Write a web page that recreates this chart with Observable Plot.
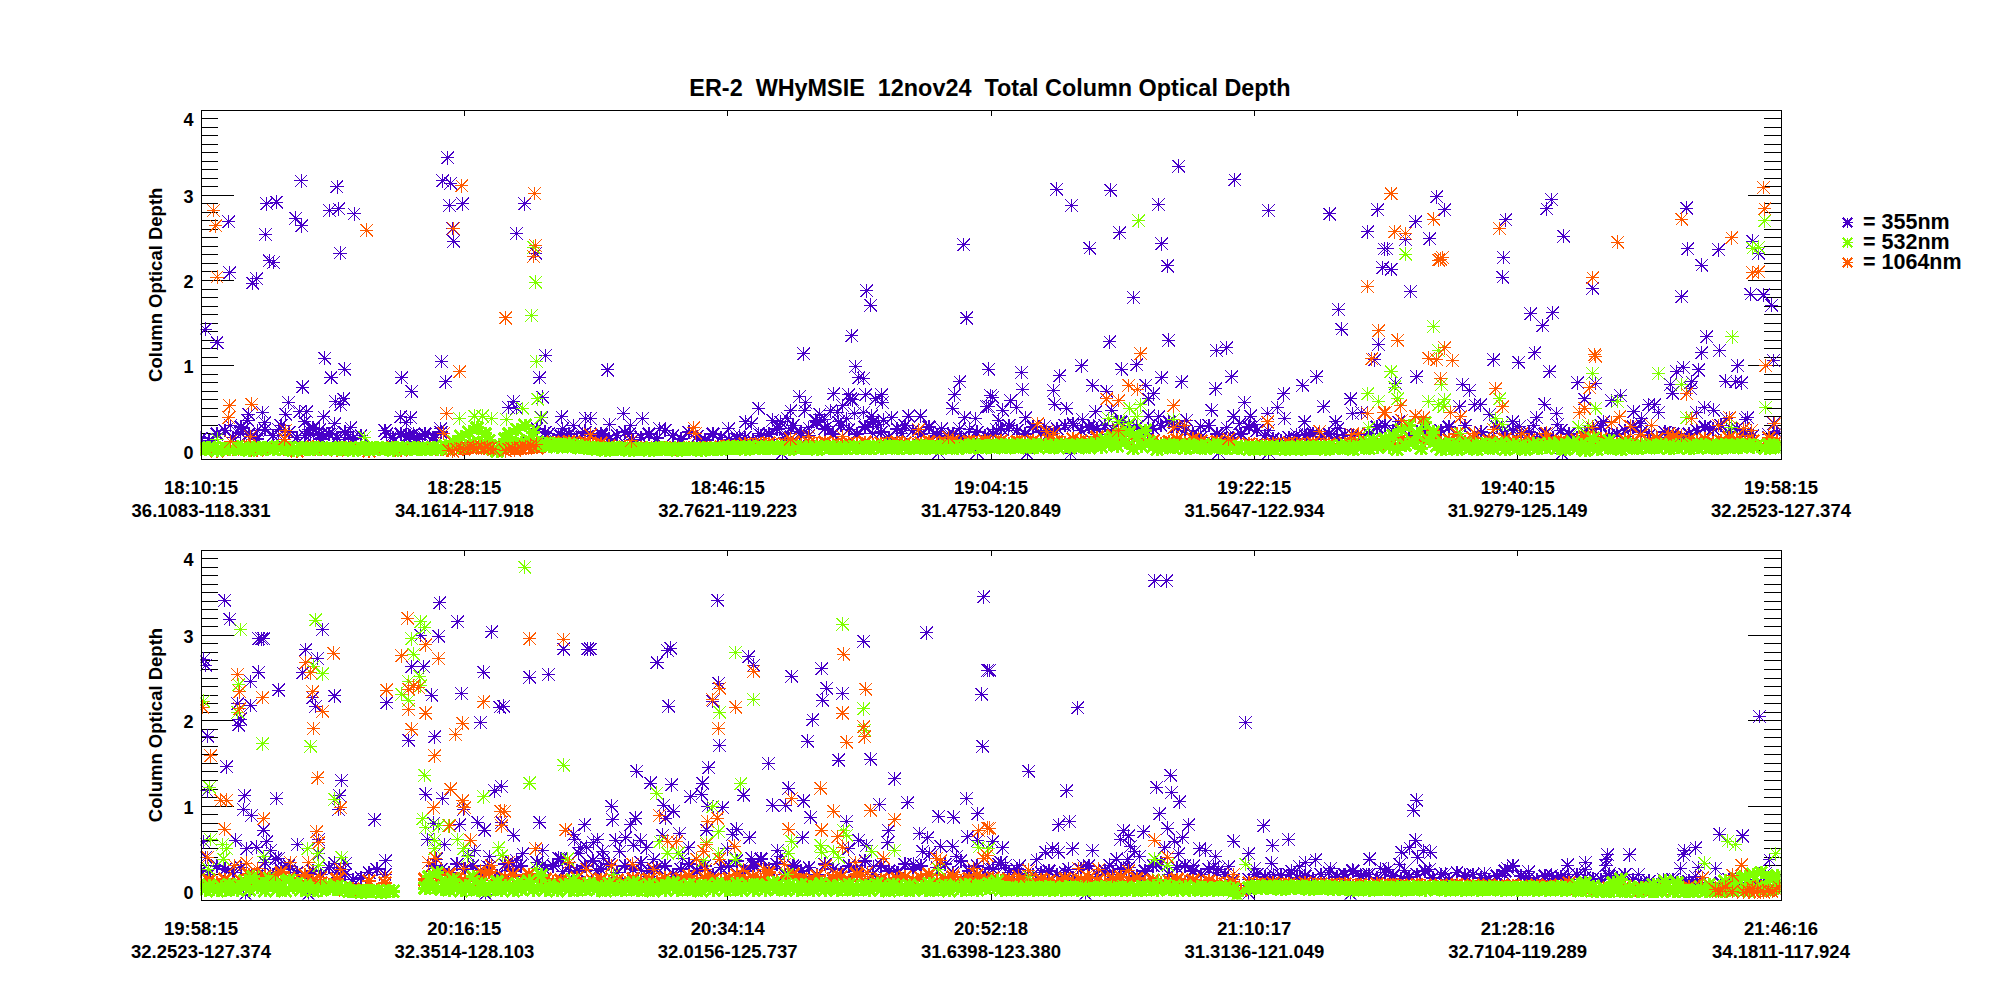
<!DOCTYPE html>
<html>
<head>
<meta charset="utf-8">
<script src="https://cdn.jsdelivr.net/npm/d3@7"></script>
<script src="https://cdn.jsdelivr.net/npm/@observablehq/plot@0.6"></script>
<style>
html,body{margin:0;padding:0;background:#fff;width:2000px;height:1000px;overflow:hidden;font-family:"Liberation Sans",Arial,sans-serif}
#page{position:relative;width:2000px;height:1000px}
#page>div{position:absolute}
#title{left:0;width:1980px;top:75px;text-align:center;font-weight:bold;font-size:23.4px;line-height:26px;white-space:pre;color:#000}
svg{display:block}
</style>
</head>
<body>
<div id="page">
  <div id="p1" style="left:0;top:0"></div>
  <div id="p2" style="left:0;top:540px"></div>
  <div id="title">ER-2  WHyMSIE  12nov24  Total Column Optical Depth</div>
  <div id="legend" style="left:1835px;top:205px"></div>
</div>
<script>
// ---- labels and colours ----
const chartTitle = "ER-2  WHyMSIE  12nov24  Total Column Optical Depth";
const yTitle = "Column Optical Depth";
const wavelengths = ["= 355nm", "= 532nm", "= 1064nm"];
const colors = ["#4800c8", "#7fff00", "#ff5a00"];
const topTimes = ["18:10:15","18:28:15","18:46:15","19:04:15","19:22:15","19:40:15","19:58:15"];
const topPlaces = ["36.1083-118.331","34.1614-117.918","32.7621-119.223","31.4753-120.849","31.5647-122.934","31.9279-125.149","32.2523-127.374"];
const botTimes = ["19:58:15","20:16:15","20:34:14","20:52:18","21:10:17","21:28:16","21:46:16"];
const botPlaces = ["32.2523-127.374","32.3514-128.103","32.0156-125.737","31.6398-123.380","31.3136-121.049","32.7104-119.289","34.1811-117.924"];
// x is a sample number along the flight leg
const sampleMax = 4740;
const xTicks = [0, 790, 1580, 2370, 3160, 3950, 4740];
const majorY = [0, 1, 2, 3];
const minorY = [0.1,0.2,0.3,0.4,0.5,0.6,0.7,0.8,0.9,1.1,1.2,1.3,1.4,1.5,1.6,1.7,1.8,1.9,2.1,2.2,2.3,2.4,2.5,2.6,2.7,2.8,2.9,3.1,3.2,3.3,3.4,3.5,3.6,3.7,3.8,3.9];
const yLabelAt = [0, 1, 2, 3, 3.9];
const yLabels = ["0", "1", "2", "3", "4"];
const segStart = [-17, 1168, 2353, 3553];

// ---- continuous band near zero: one value per sample step ----
const bandStepFine = 12, bandStepCoarse = 24;
const top532Band = [
.03,.02,.04,.03,.01,.03,.04,.02,.03,.05,.02,.03,.01,.04,.03,.02,.04,.03,.02,.05,.03,.02,.04,.01,.03,.04,.02,.03,.02,.04,.03,.02,.03,
.03,.02,.04,.02,.03,.01,.03,.04,.02,.03,.02,.04,.03,.02,.03,.01,.04,.03,.02,.03,.04,.02,.03,.02,.03,.04,.02,.03,.06,.03,.11,.04,.17,
.06,.22,.1,.27,.05,.2,.12,.02,.0,.05,.14,.2,.08,.25,.1,.3,.12,.22,.1,.07,.09,.06,.08,.05,.07,.06,.08,.05,.06,.04,.05,.03,.04,
.02,.03,.01,.03,.02,.04,.02,.03,.01,.03,.02,.03,.02,.01,.03,.02,.04,.02,.03,.02,.01,.03,.02,.03,.02,.03,.01,.02,.03,.02,.03,.02,.04,
.03,.05,.03,.04,.02,.05,.03,.04,.05,.03,.04,.03,.05,.03,.04,.02,.05,.04,.03,.05,.03,.04,.02,.05,.04,.03,.05,.03,.04,.03,.05,.04,.03,
.04,.05,.03,.05,.04,.03,.06,.04,.05,.03,.05,.04,.03,.05,.04,.06,.03,.05,.04,.05,.03,.06,.04,.05,.03,.05,.06,.04,.07,.05,.04,.06,.05,
.06,.05,.07,.04,.06,.05,.07,.05,.06,.04,.07,.05,.06,.07,.04,.06,.05,.07,.06,.04,.06,.07,.05,.06,.04,.07,.09,.05,.13,.08,.16,.06,.2,
.1,.22,.03,.17,.06,.24,.1,.05,.02,.06,.05,.07,.04,.06,.05,.03,.07,.05,.04,.06,.03,.05,.07,.04,.06,.03,.05,.04,.03,.05,.04,.02,.04,
.03,.05,.02,.04,.03,.05,.03,.02,.04,.03,.05,.02,.04,.03,.05,.03,.04,.02,.05,.03,.04,.06,.03,.05,.02,.07,.04,.1,.03,.12,.05,.08,.14,
.05,.18,.02,.25,.07,.3,.1,.2,.03,.33,.12,.22,.06,.02,.08,.03,.07,.02,.05,.09,.03,.06,.02,.08,.04,.07,.03,.06,.09,.02,.05,.07,.03,
.06,.02,.05,.08,.03,.06,.04,.09,.05,.03,.07,.02,.06,.1,.03,.07,.01,.05,.15,.02,.07,.04,.12,.03,.06,.02,.08,.04,.06,.03,.07,.05,.04,
.06,.04,.07,.05,.03,.06,.04,.07,.05,.03,.06,.04,.07,.05,.04,.06,.03,.07,.05,.06,.04,.07,.05,.06,.07,.05,.06,null,.03,.07,.05,.06,.04];
const bot532Band = [
.04,.02,.07,.03,.01,.06,.02,.08,.03,.02,.07,.12,.02,.17,.05,.09,.01,.15,.07,.02,.11,.01,.13,.05,.09,.02,.07,.03,.01,.05,.02,.07,.04,
.03,.06,.03,.04,.0,.01,.0,-.01,.01,.0,.01,.0,-.01,.0,.01,.0,null,null,null,null,null,null,null,.04,.17,.05,.22,.03,.1,.02,.14,.04,.01,
.07,.03,.17,.02,.09,.01,.06,.03,.11,.02,.07,.04,.01,.09,.03,.06,.12,.02,.05,.19,.02,.07,.03,.01,.05,.08,.02,.13,.02,.06,.03,.09,.04,
.02,.06,.01,.09,.03,.05,.02,.07,.03,.1,.02,.05,.02,.08,.01,.04,.07,.02,.06,.1,.02,.05,.03,.08,.02,.06,.01,.07,.04,.02,.09,.05,.02,
.06,.03,.09,.02,.05,.07,.02,.08,.04,.02,.06,.1,.03,.05,.02,.07,.04,.02,.08,.03,.06,.02,.05,.09,.02,.04,.07,.02,.06,.03,.08,.02,.05,
.03,.07,.02,.05,.09,.02,.06,.01,.08,.03,.05,.02,.07,.02,.04,.06,.02,.09,.02,.05,.03,.07,.01,.06,.04,.02,.08,.03,.06,.02,.07,.04,.09,
.05,.12,.02,.04,.03,.04,.02,.05,.03,.04,.02,.04,.03,.05,.02,.04,.03,.02,.05,.03,.04,.02,.05,.03,.02,.04,.03,.05,.02,.04,.03,.05,.02,
.04,.03,.02,.05,.02,.04,.03,.06,.02,.04,.07,.03,.05,.02,.04,.06,.02,.03,.05,.02,.04,.03,.02,.04,.03,.05,.02,.03,-.05,null,null,.04,.05,
.06,.04,.05,.06,.04,.05,.03,.06,.04,.05,.06,.04,.05,.03,.05,.04,.06,.04,.05,.03,.04,.05,.03,.04,.02,.04,.03,.05,.02,.04,.03,.05,.03,
.04,.03,.05,.02,.04,.03,.05,.03,.04,.02,.04,.05,.03,.04,.02,.05,.03,.04,.02,.04,.03,.05,.02,.04,.03,.05,.03,.04,.02,.04,.03,.04,.02,
.04,.03,.05,.02,.04,.03,.02,.04,.03,.05,.02,.04,.03,.02,.08,.01,.1,.02,.06,.0,.01,.03,.0,.1,.01,.14,.0,.05,.01,.0,.04,.01,.0,
.08,.0,.01,.12,.02,.0,.1,.01,.0,.01,.0,.02,.05,.0,.08,.01,.03,.0,.12,.02,.01,.15,.03,.17,.0,.2,.05,.22,.02,.16,.04,.18,.05];
const top1064Band = [
.02,.03,.0,.04,.02,.03,.06,.01,.03,.02,.04,.02,.0,.03,.05,.02,.03,.01,.04,.02,.03,.0,.03,.02,.04,.01,.03,.02,.03,.04,.02,.03,.04,
.03,.04,.05,.04,.03,.05,.04,.03,.05,.04,.06,.1,.09,.11,.08,.1,.07,.09,.06,.03,.05,.03,.04,.02,.03,.04,.03,.02,.04,.03,.04,.03,.05,
.06,.05,.08,.07,.08,.09,.07,.08,.1,.07,.09,.08,.1,.08,.07,.09,.08,.1,.07,.09,.08,.1,.09,.07,.09,.11,.08,.1,.12,.09,.11,.1,.12,
.1,.12,.09,.11,.1,.12,.09,.13,.11,.1,.14,.12,.1,.16,.12,.18,.13,.2,.14,.1,.12,.09,.11,.13,.1,.14,.12,.09,.11,.07,.09,.06,.08,
.07,.06,.08,.07,.09,.08,.07,.09,.07,.08,.06,.09,.08,.07,.1,.08,.12,.09,.14,.1,.16,.12,.18,.1,.13,.2,.11,.15,.09,.12,.1,.14,.11,
.1,.13,.08,.14,.1,.12,.09,.13,.16,.1,.14,.12,.09,.13,.11,.08,.12,.14,.1,.16,.09,.13,.11,.14,.1,.12,.15,.13,.11,.12,null,.15,.12];
const bot1064Band = [
.11,.13,.1,.14,.09,.12,.2,.15,.18,.14,.22,.16,.12,.19,.13,.1,.08,.14,.02,.03,.01,.12,.02,.1,null,null,null,null,.14,.18,.12,.2,.15,
.12,.17,.14,.22,.13,.16,.19,.12,.2,.15,.14,.11,.13,.12,.16,.1,.12,.14,.11,.13,.1,.15,.12,.14,.11,.16,.12,.15,.18,.12,.16,.14,.12,
.15,.19,.13,.17,.14,.22,.12,.16,.2,.14,.13,.18,.12,.15,.17,.13,.2,.12,.11,.14,.12,.15,.17,.13,.16,.2,.12,.14,.17,.13,.15,.19,.14,
.16,.12,.14,.11,.13,.1,.14,.12,.1,.15,.11,.13,.16,.12,.1,.14,.17,.12,.15,.11,.13,.1,.12,.14,.11,.13,.1,.12,.1,.09,.11,.02,.1,
.09,.08,.1,.08,.09,.07,.1,.08,.09,.07,.08,.09,.07,.08,.06,.09,.07,.08,.07,.06,.08,.07,.05,.07,.06,.08,.06,.07,.05,.07,.06,.05,.07,
.06,.05,.07,.06,.05,.07,.1,.04,.03,.05,.02,.04,.02,.06,.03,.02,.04,.02,.03,.01,.03,.05,.03,.06,.02,.04,.05,.03,.05,.04,.06,.03,.05];
const top355Band = [
.15,.12,.2,.24,.16,.28,.2,.14,.25,.18,.3,.22,.16,.18,.27,.14,.2,.16,.22,.15,.18,null,null,.24,.16,.2,.18,.14,.2,.16,.22,null,null,
null,null,null,null,null,null,null,null,.1,.26,.22,.12,.18,.2,.15,.22,.17,.2,.14,.18,.22,.13,.16,.2,.15,.24,.18,.14,.22,.17,.13,.2,.16,
.13,.14,.16,.12,.18,.2,.26,.15,.3,.22,.18,.34,.26,.2,.3,.25,.2,.28,.34,.22,.16,.26,.3,.24,.2,.28,.18,.14,.2,.16,.14,.22,.18,
.2,.26,.3,.24,.2,.28,.22,.2,.26,.3,.32,.24,.28,.26,.3,.25,.34,.3,.28,.2,.26,.3,.34,.28,.24,.2,.16,.3,.2,.14,.16,.2,.28,
.24,.18,.14,.12,.16,.14,.18,.2,.17,.2,.15,.19,.18,.14,.2,.28,.3,.24,.26,.18,.22,.26,.2,.24,.28,.2,.3,.16,.22,.14,.28,.2,.24,
.18,.22,.14,.2,.16,.24,.2,.15,.22,.26,.3,.18,.2,.24,.28,.22,.18,.16,.22,.2,.15,.2,.24,.28,.26,.3,.22,.26,.2,.18,null,.16,.22];
const bot355Band = [
.24,.2,.3,.26,.22,.28,.2,.18,.34,.2,.26,.3,.22,.18,.24,.2,.28,.22,.2,.14,.16,.22,.26,.2,null,null,null,null,null,.3,.26,.22,.32,
.26,.3,.2,.28,.18,.32,.24,.3,.2,.34,.26,.3,.38,.28,.24,.3,.36,.26,.32,.22,.3,.26,.34,.24,.28,.3,.2,.26,.32,.24,.3,.2,.28,
.3,.36,.24,.3,.38,.26,.32,.2,.3,.24,.28,.2,.32,.26,.22,.3,.24,.36,.2,.3,.24,.22,.32,.26,.3,.2,.28,.32,.22,.36,.24,.3,.2,
.26,.34,.22,.26,.18,.2,.22,.24,.2,.22,.16,.26,.3,.2,.24,.22,.26,.28,.18,.24,.3,.34,.2,.28,.3,.24,.2,.26,.22,.2,.14,null,.14,
.2,.17,.15,.19,.2,.16,.18,.15,.2,.22,.17,.2,.24,.18,.2,.16,.22,.18,.15,.17,.2,.24,.16,.2,.14,.22,.18,.2,.16,.14,.18,.24,.3,
.18,.16,.14,.18,.15,.17,.14,.2,.16,.15,.14,.18,.16,.2,.14,.1,.12,.08,.1,.14,.1,.12,.1,.08,.04,.1,.14,.1,.05,.12,.1,.16,.14];

// ---- scattered readings: sample offset in a stretch, optical depth ----
const top355A = [[30,1.43],[65,1.27],[100,2.69],[103,2.09],[172,1.97],[184,2.02],[214,2.9],[244,2.92],[211,2.54],[222,2.23],[235,2.21],[301,2.73],[319,2.64],[317,3.17],[425,3.1],[403,2.82],[430,2.84],[476,2.78],[434,2.32],[757,3.44],[742,3.17],[766,3.14],[763,2.88],[802,2.9],[772,2.61],[775,2.46],[988,2.9],[964,2.55],[1021,2.32],[388,1.09],[448,.96],[407,.86],[322,.75],[280,.57],[313,.46],[334,.46],[271,.43],[328,.34],[385,.4],[418,.32],[421,.58],[445,.61],[436,.54],[202,.45],[160,.43],[157,.36],[208,.33],[106,.3],[145,.26],[187,.24],[136,.2],[65,.2],[250,.25],[250,.18],[340,.25],[346,.19],[373,.25],[379,.2],[370,.18],[355,.18],[412,.21],[466,.27],[304,.16],[448,.13],[460,.16],[472,.14],[619,.86],[649,.7],[739,1.05],[751,.81],[616,.4],[646,.39],[632,.33],[574,.2],[586,.16],[634,.17],[646,.18],[655,.2],[682,.18],[718,.16],[736,.26],[1051,1.12],[1033,.86],[1042,.63],[955,.58],[940,.51],[964,.5],[1039,.39],[1099,.4],[1171,.38],[1135,.3],[1102,.26],[1060,.2],[1090,.19],[1126,.17],[1160,.2]];
const top355B = [[52,.95],[100,.44],[157,.38],[58,.31],[121,.3],[208,.26],[0,.38],[35,.18],[118,.2],[505,.5],[415,.26],[466,.34],[484,.32],[448,.18],[505,.2],[640,1.14],[628,.64],[646,.57],[601,.47],[643,.47],[547,.36],[571,.34],[592,.38],[568,.26],[601,.26],[595,.2],[628,.2],[829,1.88],[841,1.71],[784,1.35],[796,.99],[805,.86],[820,.85],[730,.67],[775,.66],[781,.61],[787,.6],[826,.66],[856,.61],[874,.66],[877,.57],[757,.53],[721,.47],[688,.43],[742,.45],[793,.44],[820,.45],[844,.41],[769,.38],[676,.36],[703,.37],[745,.34],[880,.36],[904,.39],[712,.29],[655,.27],[865,.31],[847,.21],[934,.2],[955,.41],[991,.41],[937,.26],[1120,2.42],[1129,1.56],[1195,.96],[1108,.81],[1093,.66],[1087,.5],[1189,.52],[1123,.39],[1156,.38],[1108,.26],[1138,.25],[1054,.26],[1030,.2],[1075,.2],[1200,.65],[575,-.03],[1045,-.02],[1160,-.02]];
const top355C = [[214,3.07],[259,2.88],[376,3.06],[520,2.89],[580,3.34],[748,3.18],[403,2.56],[529,2.43],[313,2.38],[547,2.17],[445,1.8],[850,2.82],[1033,2.78],[1177,2.83],[1147,2.57],[1196,2.37],[1192,2.15],[1060,1.66],[1069,1.43],[1180,1.25],[1168,1.07],[373,1.28],[550,1.3],[694,1.18],[724,1.21],[289,1],[409,.96],[454,1.01],[109,.92],[223,.88],[10,.96],[739,.87],[529,.86],[589,.81],[994,.87],[322,.77],[112,.72],[205,.71],[481,.77],[691,.73],[952,.77],[505,.67],[22,.63],[76,.59],[364,.7],[895,.67],[778,.57],[208,.55],[52,.48],[94,.51],[10,.52],[244,.5],[379,.48],[490,.61],[1015,.52],[1096,.61],[877,.51],[679,.48],[1102,.44],[1129,.45],[331,.46],[745,.41],[121,.39],[40,.36],[292,.37],[490,.41],[520,.4],[898,.38],[958,.34],[1051,.34],[796,.41],[763,.32],[646,.29],[724,.27],[34,.25],[70,.26],[178,.29],[265,.3],[325,.29],[604,.36],[808,.31],[847,.44],[1057,.26],[640,.19],[850,.24],[934,.19],[964,.19],[125,-.03],[255,-.03],[700,-.02],[850,-.02]];
const top355D = [[154,2.98],[178,2.83],[91,2.69],[133,2.49],[61,2.48],[5,2.37],[17,2.13],[76,1.87],[361,2.71],[355,2.27],[352,2.04],[499,2.95],[484,2.84],[535,2.52],[622,1.91],[436,1.61],[502,1.62],[472,1.47],[448,1.15],[325,1.07],[400,1.04],[493,.93],[94,.87],[31,.79],[232,.78],[253,.71],[577,.8],[631,.79],[706,.65],[598,.61],[679,.59],[130,.58],[478,.55],[268,.54],[286,.54],[223,.52],[514,.44],[454,.39],[313,.43],[445,.3],[517,.31],[382,.34],[403,.29],[904,2.85],[907,2.37],[1000,2.36],[949,2.18],[1102,2.46],[1120,2.32],[889,1.81],[1096,1.84],[1135,1.83],[1159,1.71],[964,1.34],[949,1.15],[1003,1.18],[1165,1.06],[1057,1],[874,.93],[895,.98],[940,.95],[856,.78],[862,.68],[919,.81],[1021,.82],[1051,.81],[1069,.8],[916,.73],[745,.46],[790,.54],[808,.54],[820,.45],[769,.38],[934,.45],[958,.51],[985,.48],[1087,.39],[1024,.38],[1081,.37],[766,.32],[853,.21],[1150,.19],[1165,.32],[40,.34],[190,.28],[655,.34],[530,-.03]];
const top532A = [[1015,2.39],[1021,1.98],[1009,1.59],[1024,1.05],[1027,.61],[982,.5],[1036,.39],[793,.38],[838,.41],[862,.41],[889,.38],[934,.37],[508,.16],[65,.14]];
const top532C = [[460,2.7],[1147,.67],[1180,.58],[466,.54],[433,.5],[565,.37],[1150,.27],[370,.38],[400,.34],[430,.32],[455,.4],[415,.26],[445,.18]];
const top532D = [[145,1.46],[160,1.18],[61,2.31],[17,.93],[28,.75],[622,.91],[820,.91],[1040,1.34],[1138,2.7],[1102,2.38],[1120,2.39],[1141,.51],[889,.78],[37,.61],[130,.58],[178,.6],[169,.78],[343,.61],[631,.5],[697,.58],[610,.3],[904,.39],[331,.38],[352,.31],[160,.54],[175,.52],[580,.28],[225,.2],[1037,.28]];
const top1064A = [[55,2.82],[61,2.64],[65,2.04],[103,.53],[100,.39],[169,.55],[799,3.11],[775,2.61],[514,2.59],[1018,3.02],[1021,2.41],[1015,2.28],[931,1.56],[793,.93],[754,.44],[745,.21],[271,.24],[268,.14],[166,.17],[106,.11],[1186,.19],[760,.01],[772,0],[784,.02],[796,.03],[805,.02],[815,.04],[825,.03],[833,.05],[842,.03],[850,.04],[858,.05],[866,.03],[875,.04],[884,.03],[895,.02],[930,0],[940,.02],[950,.03],[958,.01],[966,.03],[974,.04],[982,.03],[990,.05],[998,.04],[1006,.06],[1014,.05],[1022,.08]];
const top1064B = [[310,.27],[316,.21],[757,.17],[655,.17],[985,.25],[0,.19],[122,.12],[600,.14],[1075,.16]];
const top1064C = [[466,1.14],[430,.77],[457,.72],[364,.61],[400,.59],[565,.53],[1147,1.93],[1180,1.41],[1159,1.08],[847,.34],[1147,.44],[157,.32],[184,.23],[205,.2],[1003,.23],[1099,.19],[598,.3],[565,.27],[730,.14],[400,.24],[1196,.45],[1120,.2]];
const top1064D = [[17,3.02],[145,2.72],[28,2.57],[61,2.55],[166,2.25],[160,2.24],[172,2.27],[343,2.61],[697,2.45],[622,2.03],[889,2.72],[1039,2.5],[1135,3.09],[1138,2.84],[1102,2.09],[1120,2.1],[37,1.3],[178,1.21],[130,1.09],[154,1.07],[202,1.06],[628,1.13],[631,1.11],[1141,1],[166,.85],[331,.73],[613,.74],[904,.67],[46,.53],[0,.45],[91,.41],[115,.39],[226,.4],[196,.45],[352,.52],[583,.45],[598,.5],[703,.4],[679,.33],[919,.38],[1033,.39],[49,.36],[268,.21],[325,.25],[484,.21],[736,.29],[799,.3],[766,.19],[850,.2],[889,.18],[1000,.3],[1099,.24],[409,.2],[1168,.32],[1075,.26],[620,.28]];

const bot355A = [[88,3.41],[103,3.19],[199,2.96],[205,2.96],[190,2.96],[382,3.07],[331,2.83],[367,2.73],[25,2.72],[31,2.65],[190,2.57],[166,2.46],[322,2.56],[250,2.36],[127,2.2],[166,2.18],[130,1.95],[136,2.02],[352,2.27],[361,2.17],[418,2.29],[37,1.82],[94,1.46],[35,1.18],[148,1.12],[244,1.09],[145,.96],[169,.89],[439,1.3],[433,1.12],[430,.96],[205,.72],[538,.84],[214,.58],[121,.6],[370,.61],[307,.55],[184,.52],[154,.5],[226,.48],[25,.58],[250,.39],[241,.38],[31,.4],[418,.33],[451,.33],[571,.36],[370,.44],[100,.24],[286,.27],[445,.26],[574,2.21],[733,3.38],[787,3.16],[889,3.04],[1105,2.84],[1177,2.84],[1003,2.51],[1060,2.54],[865,2.57],[676,3],[730,2.99],[649,2.63],[685,2.63],[709,2.3],[799,2.32],[913,2.16],[925,2.17],[856,1.98],[718,1.81],[640,1.77],[691,1.14],[898,1.18],[919,1.23],[742,1.09],[805,.96],[715,.8],[793,.78],[847,.81],[868,.72],[1033,.81],[919,.81],[1168,.78],[955,.66],[1135,.67],[1138,.61],[697,.61],[748,.55],[1042,.48],[1156,.51],[1174,.52],[1150,.45],[838,.48],[982,.44],[883,.41],[1090,.39],[964,.36],[724,.38],[1042,.32],[1102,.23],[820,.42],[875,.3],[950,.34],[1195,.57],[150,-.03],[340,-.03],[870,-.03]];
const bot355B = [[382,3.41],[1180,3.45],[1009,3.03],[820,2.93],[241,2.85],[232,2.82],[200,2.68],[0,2.84],[475,2.75],[490,2.65],[694,2.61],[604,2.52],[1192,2.59],[385,2.44],[709,2.38],[757,2.32],[1174,2.31],[697,2.24],[367,2.23],[436,2.16],[235,2.17],[667,2.01],[652,1.76],[388,1.71],[1177,1.7],[535,1.5],[745,1.54],[841,1.55],[355,1.45],[139,1.41],[913,1.32],[181,1.27],[244,1.25],[337,1.27],[595,1.21],[334,1.14],[460,1.13],[301,1.11],[64,1],[220,1.01],[352,1],[250,.94],[397,.98],[547,1.01],[586,1.01],[640,1.06],[868,1.02],[952,1.04],[1129,1.09],[67,.84],[136,.86],[226,.86],[661,.87],[1162,.91],[1045,.88],[1090,.87],[121,.78],[769,.82],[349,.72],[439,.73],[427,.67],[268,.68],[22,.61],[76,.6],[106,.63],[151,.6],[217,.66],[478,.63],[637,.63],[895,.71],[988,.68],[1012,.63],[1132,.64],[1162,.6],[805,.6],[892,.57],[130,.54],[169,.51],[295,.51],[562,.48],[1051,.53],[1087,.53],[775,.5],[829,.54],[997,.47],[37,.47],[88,.47],[40,.39],[190,.37],[277,.39],[484,.39],[571,.41],[1018,.44],[1099,.41],[19,.24],[154,.25],[493,.31],[613,.29],[850,.29],[970,.32],[1195,.28],[925,.22],[410,.5]];
const bot355C = [[508,3.64],[544,3.64],[13,2.59],[277,2.15],[781,1.98],[130,1.41],[556,1.36],[244,1.18],[514,1.22],[559,1.16],[583,1.05],[523,.91],[253,.82],[220,.78],[835,.77],[547,.74],[415,.71],[610,.78],[475,.7],[406,.61],[430,.65],[592,.63],[568,.59],[745,.59],[862,.54],[910,.61],[22,.58],[52,.51],[436,.53],[262,.5],[322,.48],[202,.5],[181,.46],[220,.46],[538,.51],[448,.47],[661,.48],[643,.5],[463,.41],[580,.44],[790,.44],[1153,.38],[991,.37],[154,.37],[691,.41],[394,.38],[427,.37],[859,.33],[961,.34],[40,.32],[103,.3],[373,.31],[625,.3],[514,.31],[808,.27],[685,.29],[730,.29],[1036,.27],[1102,.25],[1186,.27],[919,.24],[943,.29],[1144,.2],[805,.2],[865,.2],[1075,.2],[645,.2],[700,.26],[60,.3],[185,.2],[250,.26],[295,.3],[300,-.03],[1095,-.03],[790,-.02]];
const bot355D = [[94,1.07],[85,.95],[91,.6],[73,.51],[49,.46],[97,.4],[136,.46],[115,.48],[43,.32],[58,.25],[133,.26],[10,.26],[181,.21],[238,.19],[298,.21],[367,.27],[430,.23],[358,.19],[1123,2.05],[1003,.67],[1072,.65],[931,.51],[898,.48],[895,.43],[733,.43],[667,.43],[601,.34],[664,.37],[547,.31],[886,.27],[991,.27],[673,.21],[661,.3],[760,.2],[1153,.37],[835,.14],[499,.19],[550,.2],[600,.26],[940,.28],[930,.18],[1141,.21]];
const bot532A = [[988,3.8],[361,3.18],[136,3.07],[676,3.16],[688,3.09],[649,2.96],[655,2.78],[415,2.79],[355,2.64],[382,2.55],[673,2.52],[130,2.42],[640,2.46],[619,2.31],[676,2.41],[640,2.24],[25,2.23],[127,2.1],[202,1.73],[346,1.7],[1105,1.48],[688,1.36],[1003,1.27],[43,1.22],[865,1.11],[418,1.08],[682,.85],[691,.75],[730,.77],[760,.77],[46,.61],[82,.55],[94,.5],[787,.61],[718,.6],[805,.5],[910,.51],[337,.5],[367,.44],[205,.41],[85,.38],[439,.4],[370,.3],[40,.26],[817,.41],[718,.5],[1117,.38],[1024,.27],[920,.42]];
const bot532B = [[757,3.13],[436,2.8],[490,2.25],[388,2.1],[820,2.14],[823,1.89],[451,1.26],[199,1.15],[367,.99],[385,.7],[760,.71],[769,.66],[604,.59],[208,.58],[691,.54],[694,.46],[595,.45],[913,.48],[844,.47],[232,.45],[265,.45],[349,.57],[385,.44],[436,.38],[745,.4],[340,.36],[730,.47],[1165,.52],[1045,.26],[70,.2],[590,.2]];
const bot532C = [[10,.5],[781,.32],[508,.38],[547,.31],[520,.14],[130,.18],[740,-.03]];
const bot532D = [[1027,.59],[1051,.55],[958,.33],[1171,.44]];
const bot1064A = [[637,3.2],[691,2.89],[619,2.76],[730,2.73],[1003,2.96],[1105,2.95],[415,2.79],[331,2.68],[346,2.56],[127,2.54],[352,2.34],[133,2.34],[202,2.27],[574,2.36],[865,2.22],[22,2.16],[133,2.14],[382,2.11],[640,2.13],[691,2.09],[355,1.91],[649,1.9],[802,1.97],[781,1.84],[46,1.59],[718,1.59],[367,1.33],[76,1.07],[94,1.07],[436,.98],[766,1.2],[802,1.06],[808,.98],[715,.98],[205,.85],[88,.73],[364,.7],[370,.57],[916,.94],[928,.94],[919,.77],[763,.77],[1111,.72],[826,.6],[1021,.5],[1123,.34],[37,.4],[286,.34],[340,.34],[154,.33],[118,.3],[187,.27],[436,.26],[721,.39],[700,.34],[805,.27],[1174,.26],[241,.2],[376,.16],[571,.16],[856,.24],[888,.3],[940,.34],[670,2.39],[640,2.37],[655,2.41]];
const bot1064B = [[490,2.58],[388,2.38],[367,2.25],[436,2.16],[760,2.78],[826,2.37],[757,2.09],[385,1.91],[820,1.93],[823,1.81],[769,1.75],[691,1.21],[604,1.09],[208,.89],[730,.94],[841,.95],[382,.86],[352,.82],[913,.84],[595,.73],[694,.72],[1192,.74],[1165,.71],[742,.64],[232,.59],[259,.58],[349,.55],[433,.53],[757,.52],[340,.47],[64,.3],[127,.32],[319,.38],[388,.38],[583,.32],[1180,.39],[880,.39],[1039,.39],[706,.3],[796,.34],[1051,.36],[346,.26],[190,.26],[460,.25],[520,.26],[1150,.27],[1090,.2],[830,.22],[740,.2]];
const bot1064C = [[13,.74],[508,.6],[547,.4],[280,.27],[340,.26],[130,.25],[430,.24],[5,.42],[745,.2],[380,.18],[100,.18],[305,.18]];
const bot1064D = [[1069,.31],[1042,.19],[952,.16],[990,.02],[1000,0],[1012,.03],[1020,.05],[1040,0],[1075,-.01],[1085,.02],[1092,0],[1100,.04],[1108,-.01],[1116,.01],[1125,0],[1135,-.01],[1148,.01],[1160,0],[1172,.02],[1182,.05]];

// ---- helpers ----
const band = (values, step) => values.map((v, i) => ({x: i * step, y: v})).filter(d => d.y != null);
const stretch = (pairs, seg) => pairs.map(([dx, v]) => ({x: segStart[seg] + dx, y: v}));
// the eight-armed asterisk of the original plotting package
const asterisk = {draw(c, size) {
  const r = Math.sqrt(size / Math.PI), q = r * 0.92;
  c.moveTo(-r, 0); c.lineTo(r, 0);
  c.moveTo(0, -r); c.lineTo(0, r);
  c.moveTo(-q, -q); c.lineTo(q, q);
  c.moveTo(-q, q); c.lineTo(q, -q);
}};
const font = "Liberation Sans, Arial, sans-serif";
const star = (data, color, extra = {}) => Plot.dot(data, {x: "x", y: "y", r: 6.8, symbol: asterisk, stroke: color, fill: "none", strokeWidth: 1, clip: true, shapeRendering: "crispEdges", ...extra});

function panel({height, marginTop, marginBottom, times, places, s355, s532, s1064, b355, b532, b1064}) {
  return Plot.plot({
    width: 2000, height, marginTop, marginBottom, marginLeft: 200.5, marginRight: 219.5,
    style: {background: "transparent", fontFamily: font},
    x: {domain: [0, sampleMax], axis: null},
    y: {domain: [-0.1, 4], axis: null},
    marks: [
      Plot.ruleY(minorY, {x1: 0, x2: 51, stroke: "#000", shapeRendering: "crispEdges"}),
      Plot.ruleY(minorY, {x1: sampleMax - 51, x2: sampleMax, stroke: "#000", shapeRendering: "crispEdges"}),
      Plot.ruleY(majorY, {x1: 0, x2: 99, stroke: "#000", shapeRendering: "crispEdges"}),
      Plot.ruleY(majorY, {x1: sampleMax - 99, x2: sampleMax, stroke: "#000", shapeRendering: "crispEdges"}),
      Plot.ruleX(xTicks, {y1: 4, y2: 3.92, stroke: "#000", shapeRendering: "crispEdges"}),
      Plot.ruleX(xTicks, {y1: -0.1, y2: -0.02, stroke: "#000", shapeRendering: "crispEdges"}),
      star(b355, colors[0], {strokeWidth: 1.6}),
      star(s355, colors[0]),
      star(b1064, colors[2], {strokeWidth: 2.4}),
      star(b532, colors[1], {strokeWidth: 3}),
      star(s532, colors[1]),
      star(s1064, colors[2]),
      Plot.frame({stroke: "#000", shapeRendering: "crispEdges"}),
      Plot.text(yLabels, {y: (d, i) => yLabelAt[i], text: d => d, frameAnchor: "left", textAnchor: "end", dx: -7.5, dy: 2, fontSize: 18, fontWeight: "bold", fill: "#000"}),
      Plot.text([yTitle], {y: () => 1.95, text: d => d, frameAnchor: "left", textAnchor: "middle", rotate: -90, dx: -44.5, fontSize: 18.5, fontWeight: "bold", fill: "#000"}),
      Plot.text(times, {x: (d, i) => xTicks[i], text: (d, i) => d + "\n" + places[i], frameAnchor: "bottom", lineAnchor: "top", dy: 18, lineHeight: 1.26, fontSize: 18.5, fontWeight: "bold", fill: "#000"})
    ]
  });
}

document.getElementById("p1").append(panel({
  height: 540, marginTop: 109.5, marginBottom: 81, times: topTimes, places: topPlaces,
  b355: band(top355Band, bandStepCoarse), b532: band(top532Band, bandStepFine), b1064: band(top1064Band, bandStepCoarse),
  s355: [...stretch(top355A,0), ...stretch(top355B,1), ...stretch(top355C,2), ...stretch(top355D,3)],
  s532: [...stretch(top532A,0), ...stretch(top532C,2), ...stretch(top532D,3)],
  s1064: [...stretch(top1064A,0), ...stretch(top1064B,1), ...stretch(top1064C,2), ...stretch(top1064D,3)]
}));
document.getElementById("p2").append(panel({
  height: 440, marginTop: 9.5, marginBottom: 80.5, times: botTimes, places: botPlaces,
  b355: band(bot355Band, bandStepCoarse), b532: band(bot532Band, bandStepFine), b1064: band(bot1064Band, bandStepCoarse),
  s355: [...stretch(bot355A,0), ...stretch(bot355B,1), ...stretch(bot355C,2), ...stretch(bot355D,3)],
  s532: [...stretch(bot532A,0), ...stretch(bot532B,1), ...stretch(bot532C,2), ...stretch(bot532D,3)],
  s1064: [...stretch(bot1064A,0), ...stretch(bot1064B,1), ...stretch(bot1064C,2), ...stretch(bot1064D,3)]
}));
document.getElementById("title").textContent = chartTitle;
document.getElementById("legend").append(Plot.plot({
  width: 160, height: 80, margin: 0,
  style: {background: "transparent", fontFamily: font},
  x: {axis: null, domain: [0, 160], range: [0, 160]},
  y: {axis: null, type: "point", padding: 0, domain: wavelengths, range: [17, 57]},
  marks: [
    Plot.dot(wavelengths, {x: () => 12, y: d => d, r: 5, symbol: asterisk, stroke: (d, i) => colors[i], fill: "none", shapeRendering: "crispEdges"}),
    Plot.text(wavelengths, {x: () => 27.5, y: d => d, text: d => d, textAnchor: "start", fontSize: 21.5, fontWeight: "bold", fill: "#000"})
  ]
}));
</script>
</body>
</html>
